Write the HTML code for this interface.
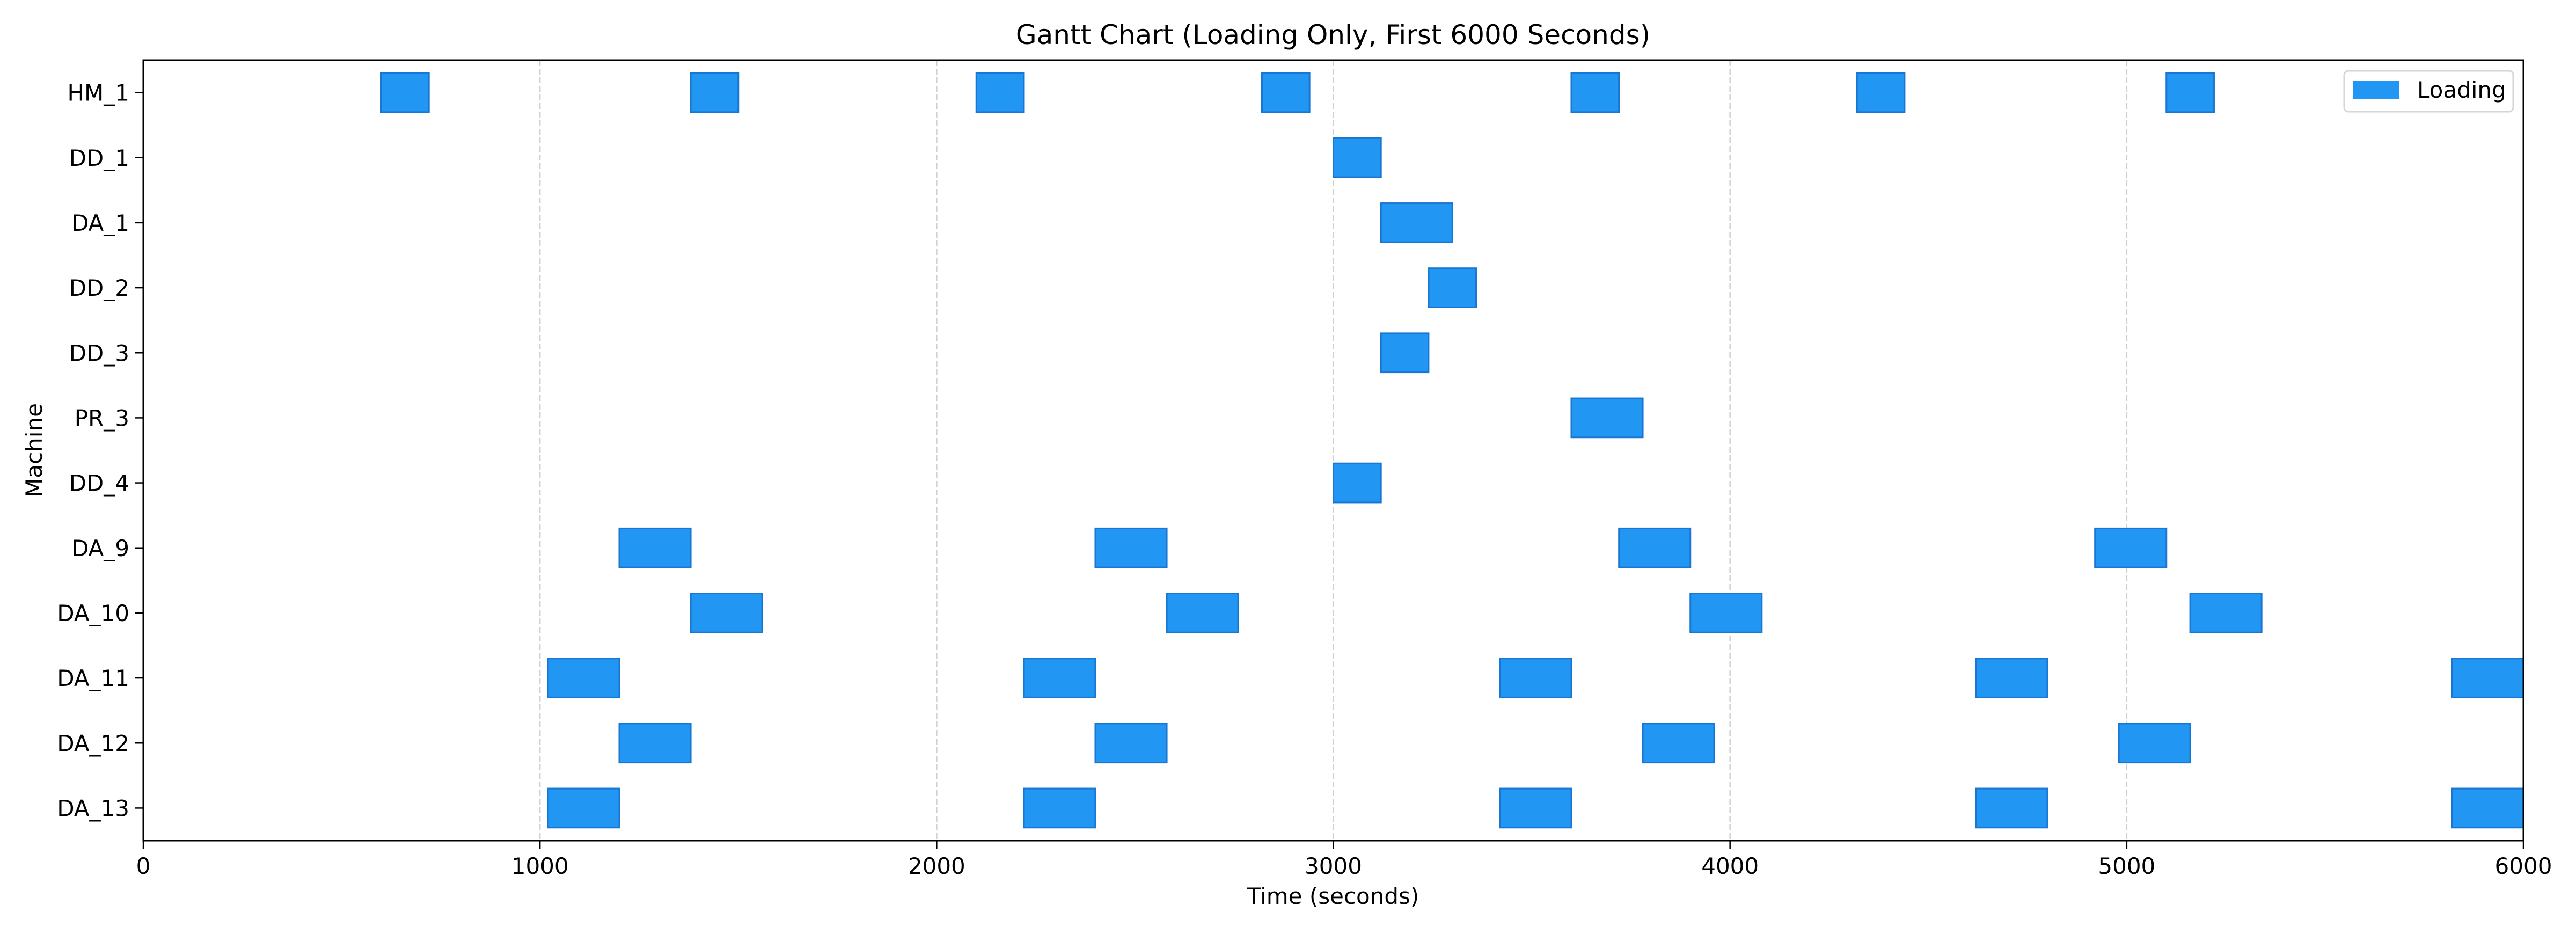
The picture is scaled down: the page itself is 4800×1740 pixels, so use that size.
<!DOCTYPE html>
<html><head><meta charset="utf-8"><style>
html,body{margin:0;padding:0;background:#fff;}
svg{display:block;font-family:"DejaVu Sans","Liberation Sans",sans-serif;}
</style></head><body>
<svg id="chart" width="4800" height="1740" viewBox="0 0 4800 1740" xmlns="http://www.w3.org/2000/svg">
<rect width="4800" height="1740" fill="#fff"/>
<g id="grid"></g>
<g id="bars"></g>
<g id="axes"></g>
<text x="2484" y="82" font-size="50" text-anchor="middle">Gantt Chart (Loading Only, First 6000 Seconds)</text>
<text x="2484" y="1684" font-size="42" text-anchor="middle">Time (seconds)</text>
<text x="0" y="0" font-size="42" text-anchor="middle" transform="translate(78,839) rotate(-90)">Machine</text>
<g>
<rect x="4368" y="132" width="315" height="76" rx="8" fill="#fff" stroke="#d6d6d6" stroke-width="3"/>
<rect x="4384" y="151" width="87" height="33" fill="#2196F3"/>
<text x="4504" y="182" font-size="42">Loading</text>
</g>
</svg>
<script>
const machines = ["HM_1","DD_1","DA_1","DD_2","DD_3","PR_3","DD_4","DA_9","DA_10","DA_11","DA_12","DA_13"];
const taskMachine = ["HM_1","HM_1","HM_1","HM_1","HM_1","HM_1","HM_1","DD_1","DA_1","DD_2","DD_3","PR_3","DD_4",
 "DA_9","DA_9","DA_9","DA_9","DA_10","DA_10","DA_10","DA_10",
 "DA_11","DA_11","DA_11","DA_11","DA_11","DA_12","DA_12","DA_12","DA_12",
 "DA_13","DA_13","DA_13","DA_13","DA_13"];
const taskStart = [600,1380,2100,2820,3600,4320,5100,3000,3120,3240,3120,3600,3000,
 1200,2400,3720,4920,1380,2580,3900,5160,
 1020,2220,3420,4620,5820,1200,2400,3780,4980,
 1020,2220,3420,4620,5820];
const taskEnd = [720,1500,2220,2940,3720,4440,5220,3120,3300,3360,3240,3780,3120,
 1380,2580,3900,5100,1560,2760,4080,5340,
 1200,2400,3600,4800,6000,1380,2580,3960,5160,
 1200,2400,3600,4800,6000];
const xTicks = [0,1000,2000,3000,4000,5000,6000];

const NS = "http://www.w3.org/2000/svg";
const L = 267, R = 4702, T = 112, B = 1566;
const xMin = 0, xMax = 6000;
function xs(v){ return L + (v - xMin) / (xMax - xMin) * (R - L); }
function ys(i){ return T + (i + 0.5) / machines.length * (B - T); }
const band = (B - T) / machines.length;
function mk(tag, attrs, parent){ const e = document.createElementNS(NS, tag); for (const k in attrs) e.setAttribute(k, attrs[k]); parent.appendChild(e); return e; }

const grid = document.getElementById('grid');
const bars = document.getElementById('bars');
const axes = document.getElementById('axes');

xTicks.forEach(t => {
  const x = xs(t);
  const g = mk('line', {x1:x, x2:x, y1:T, y2:B, stroke:'#b0b0b0', 'stroke-opacity':0.6, 'stroke-width':2.5, 'stroke-dasharray':'11,5'}, grid);
  
  
  const tk = mk('line', {x1:x, x2:x, y1:B, y2:B+15, stroke:'#000', 'stroke-width':2.5}, axes);
  
  
  const lb = mk('text', {x:x, y:B+62, 'font-size':42, 'text-anchor':'middle'}, axes);
  lb.textContent = t;
  
  
});

machines.forEach((m, i) => {
  const y = ys(i);
  const tk = mk('line', {x1:L-15, x2:L, y1:y, y2:y, stroke:'#000', 'stroke-width':2.5}, axes);
  
  
  const lb = mk('text', {x:L-26, y:y+15, 'font-size':42, 'text-anchor':'end'}, axes);
  lb.textContent = m;
  
  
});

taskStart.forEach((s, k) => {
  const i = machines.indexOf(taskMachine[k]);
  const x0 = xs(s), x1 = xs(taskEnd[k]);
  const h = band * 0.6;
  const r = mk('rect', {x:x0, y:ys(i) - h/2, width:x1 - x0, height:h, fill:'#2196F3', stroke:'#1976D2', 'stroke-width':3}, bars);
  
  
});

const frame = mk('rect', {x:L, y:T, width:R-L, height:B-T, fill:'none', stroke:'#000', 'stroke-width':3}, axes);


</script>
</body></html>
